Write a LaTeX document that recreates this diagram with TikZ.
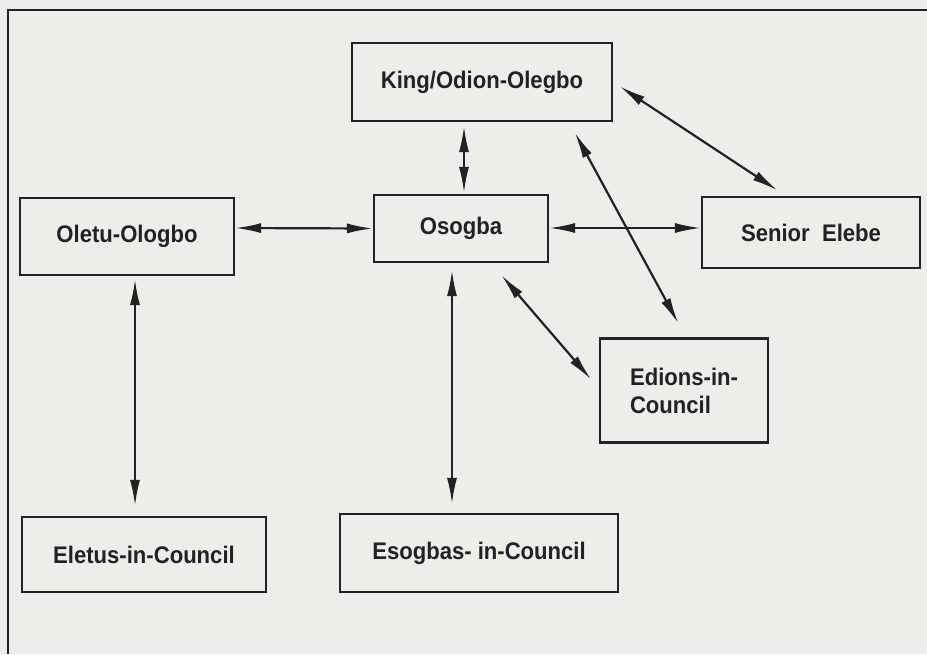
\documentclass[tikz,border=0pt]{standalone}
\usepackage{fontspec}
\newfontfamily\boxfont[FakeStretch=0.92]{Liberation Sans}
\usetikzlibrary{arrows.meta}

\definecolor{paper}{HTML}{EFEDE9}
\definecolor{ink}{HTML}{222222}

\tikzset{
  unit/.style={draw=ink,line width=1.1pt,fill=paper,inner sep=0pt,
    font=\boxfont\bfseries\fontsize{12}{14}\selectfont,text=ink},
  link/.style={draw=ink,line width=1.1pt,{Latex[length=13pt,width=5pt]}-{Latex[length=13pt,width=5pt]}}
}

\begin{document}
\begin{tikzpicture}[x=0.5pt,y=-0.5pt]
    \fill[paper] (0,0) rectangle (927,654);
    \useasboundingbox (0,0) rectangle (927,654);
    \draw[ink,line width=1.1pt] (927,10) -- (8,10) -- (8,654);

    \node[unit,minimum width=130pt,minimum height=39pt] (king) at (482,82) {King/Odion-Olegbo};
    \node[unit,minimum width=87pt,minimum height=33.5pt] (osogba) at (461,228.5) {Osogba};
    \node[unit,minimum width=107pt,minimum height=38.5pt] (oletu) at (127,236.5) {Oletu-Ologbo};
    \node[unit,minimum width=109pt,minimum height=35.5pt] (senior) at (811,232.5) {Senior\ \ Elebe};
    \node[unit,minimum width=84pt,minimum height=52pt,align=left] (edions) at (684,390.5) {Edions-in-\\Council};
    \node[unit,minimum width=122pt,minimum height=37.5pt] (eletus) at (144,554.5) {Eletus-in-Council};
    \node[unit,minimum width=139pt,minimum height=39pt] (esogbas) at (479,553) {Esogbas- in-Council};

    \draw[link,shorten <=2pt,shorten >=0.5pt] ([xshift=-9pt]king.south) -- ([xshift=1.5pt]osogba.north);
    \draw[link,shorten <=4pt,shorten >=5pt] (king.east) -- ([xshift=-12.5pt]senior.north);
    \draw[link,shorten <=6pt,shorten >=8pt] ([xshift=-22pt]king.south east) -- ([xshift=1pt]edions.north);
    \draw[link,shorten <=8pt,shorten >=6pt] ([xshift=15pt]osogba.south) -- ([yshift=1pt]edions.west);
    \draw[link] ([yshift=4.25pt]oletu.east) -- (osogba.west);
    \draw[link] ([yshift=0.25pt]osogba.east) -- ([yshift=2.25pt]senior.west);
    \draw[link,shorten <=1.5pt,shorten >=5pt] ([xshift=4pt]oletu.south) -- ([xshift=-4.5pt]eletus.north);
    \draw[link,shorten <=3.5pt,shorten >=4.5pt] ([xshift=-4.5pt]osogba.south) -- ([xshift=-13.5pt]esogbas.north);
\end{tikzpicture}
\end{document}
